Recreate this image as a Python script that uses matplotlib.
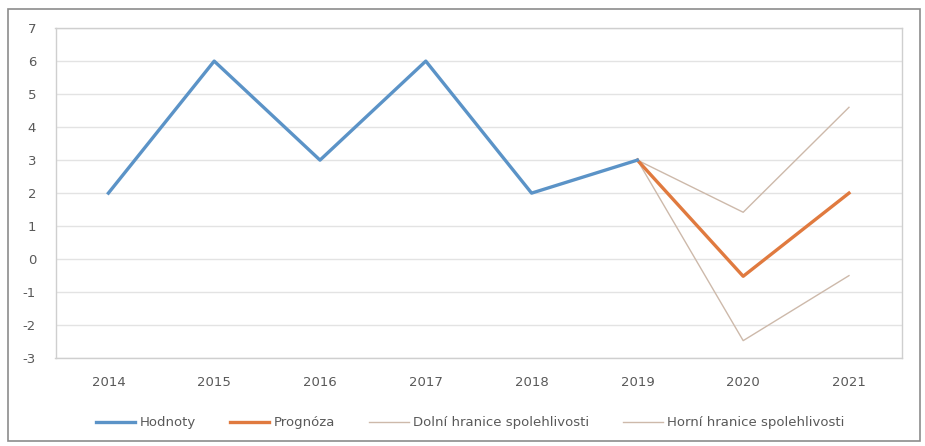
import numpy as np
import matplotlib.pyplot as plt

plt.rcParams['axes.unicode_minus'] = False

roky = ['2014', '2015', '2016', '2017', '2018', '2019', '2020', '2021']
hodnoty = [2, 6, 3, 6, 2, 3]
prognoza = [3, -0.52, 2.0]
dolni = [3, -2.47, -0.5]
horni = [3, 1.42, 4.6]

x = np.arange(len(roky))
x_prog = x[5:]

fig = plt.figure(figsize=(9.25, 4.46), dpi=100)
# vnejsi ramecek grafu
fig.patches.append(plt.Rectangle((0.009, 0.012), 0.986, 0.968, transform=fig.transFigure,
                                 fill=False, edgecolor='#8c8c8c', linewidth=1.2))
ax = fig.add_axes([0.060, 0.197, 0.915, 0.740])

ax.plot(x_prog, dolni, color='#cdb9aa', linewidth=1.0, label='Dolní hranice spolehlivosti', zorder=2)
ax.plot(x_prog, horni, color='#cdb9aa', linewidth=1.0, label='Horní hranice spolehlivosti', zorder=2)
ax.plot(x_prog, prognoza, color='#e07a3f', linewidth=2.4, label='Prognóza', zorder=3)
ax.plot(x[:6], hodnoty, color='#5b93c7', linewidth=2.4, label='Hodnoty', zorder=4)

ax.set_xlim(-0.5, len(roky) - 0.5)
ax.set_ylim(-3, 7)
ax.set_xticks(x)
ax.set_xticklabels(roky)
ax.set_yticks(range(-3, 8))
ax.tick_params(axis='both', length=0, labelsize=9.5, colors='#595959')
ax.tick_params(axis='x', pad=13)
ax.tick_params(axis='y', pad=14)
ax.grid(axis='y', color='#e3e3e3', linewidth=1.0)
ax.set_axisbelow(True)
for s in ax.spines.values():
    s.set_color('#cfcfcf')
    s.set_linewidth(1.0)

handles, labels = ax.get_legend_handles_labels()
order = [3, 2, 0, 1]
leg = fig.legend([handles[i] for i in order], [labels[i] for i in order],
                 loc='center', bbox_to_anchor=(0.508, 0.052), ncol=4, frameon=False,
                 fontsize=9.5, handlelength=3.0, columnspacing=2.6, handletextpad=0.3)
for t in leg.get_texts():
    t.set_color('#595959')

fig.savefig('out.png', dpi=100, facecolor='white')
